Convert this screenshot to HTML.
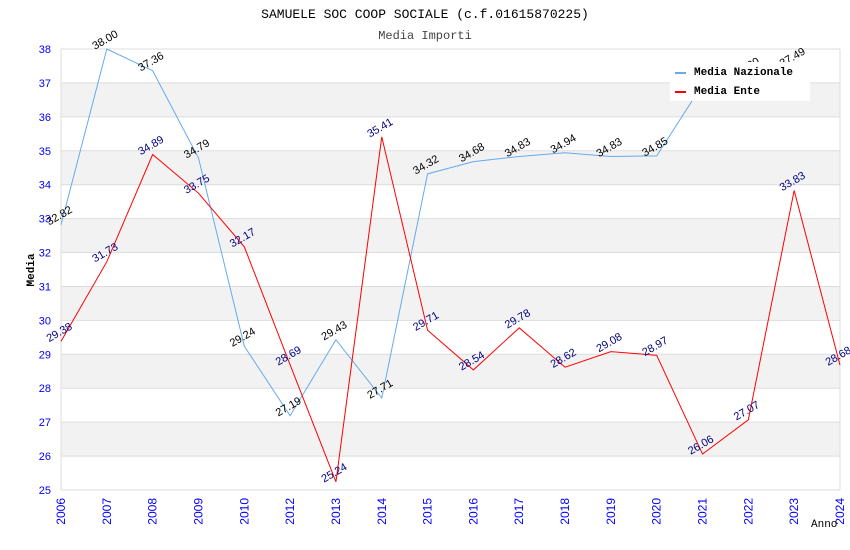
<!DOCTYPE html>
<html><head><meta charset="utf-8"><style>
body{margin:0;background:#fff;}
svg{display:block;font-family:"Liberation Sans",sans-serif;}
</style></head><body>
<svg id="chart" width="850" height="550" xmlns="http://www.w3.org/2000/svg">
<text x="425" y="18" text-anchor="middle" font-family="Liberation Mono, monospace" font-size="13" fill="#000">SAMUELE SOC COOP SOCIALE (c.f.01615870225)</text>
<text x="425" y="39" text-anchor="middle" font-family="Liberation Mono, monospace" font-size="12" fill="#444">Media Importi</text>
<g id="bands"></g><g id="grid"></g><g id="yticks"></g><g id="xticks"></g>
<g id="lines"></g><g id="labels"></g>
<text transform="translate(34,270) rotate(-90)" text-anchor="middle" font-family="Liberation Mono, monospace" font-size="11" font-weight="bold">Media</text>
<text x="811" y="527" font-family="Liberation Mono, monospace" font-size="11">Anno</text>
<g>
<rect x="670" y="62" width="140" height="39" fill="#fff"/>
<line x1="675" y1="73" x2="686" y2="73" stroke="#66aaee" stroke-width="2"/>
<text x="694" y="75" font-family="Liberation Mono, monospace" font-size="11" font-weight="bold">Media Nazionale</text>
<line x1="675" y1="92" x2="686" y2="92" stroke="#ff0000" stroke-width="2"/>
<text x="694" y="94" font-family="Liberation Mono, monospace" font-size="11" font-weight="bold">Media Ente</text>
</g>
</svg>
<script>
const categories=["2006","2007","2008","2009","2010","2012","2013","2014","2015","2016","2017","2018","2019","2020","2021","2022","2023","2024"];
const nazionale=[32.82,38.00,37.36,34.79,29.24,27.19,29.43,27.71,34.32,34.68,34.83,34.94,34.83,34.85,36.95,37.2,37.49,null];
const ente=[29.38,31.73,34.89,33.75,32.17,28.69,25.24,35.41,29.71,28.54,29.78,28.62,29.08,28.97,26.06,27.07,33.83,28.68];
const yTicks=[25,26,27,28,29,30,31,32,33,34,35,36,37,38];
const NS="http://www.w3.org/2000/svg";
const L=61,R=840,T=49,B=490,YMIN=25,YMAX=38;
const x=i=>L+i*(R-L)/(categories.length-1);
const y=v=>B-(v-YMIN)*(B-T)/(YMAX-YMIN);
function mk(tag,attrs,parent,txt){const e=document.createElementNS(NS,tag);for(const k in attrs)e.setAttribute(k,attrs[k]);if(txt!==undefined)e.textContent=txt;document.getElementById(parent).appendChild(e);return e;}
yTicks.forEach(t=>{
 if(t<YMAX && t%2===0){const b=mk('rect',{x:L,y:y(t+1),width:R-L,height:y(t)-y(t+1),fill:'#f2f2f2'},'bands');
 
 }
 const g=mk('line',{x1:L,x2:R,y1:y(t),y2:y(t),stroke:'#dddddd'},'grid');
 
 
 const tl=mk('text',{x:L-10,y:y(t)+4,'text-anchor':'end','font-size':11,fill:'#0000ff'},'yticks',t);
 
 
});
const ax=mk('line',{x1:R,x2:R,y1:T,y2:B,stroke:'#dddddd'},'grid');


const ax2=mk('line',{x1:L,x2:L,y1:T,y2:B,stroke:'#dddddd'},'grid');


categories.forEach((c,i)=>{
 const t=mk('text',{transform:`translate(${x(i)+4},${B+8}) rotate(-90)`,'text-anchor':'end','font-size':12,fill:'#0000ff'},'xticks',c);
 
 
});
function series(vals,color,lblColor,name){
 let d='';vals.forEach((v,i)=>{if(v==null)return;d+=(d?'L':'M')+x(i)+','+y(v);});
 const p=mk('path',{d:d,fill:'none',stroke:color,'stroke-width':1},'lines');
 
 
 vals.forEach((v,i)=>{if(v==null)return;
  const t=mk('text',{transform:`translate(${x(i)},${y(v)-6}) rotate(-30)`,'text-anchor':'middle','font-size':11,fill:lblColor},'labels',v.toFixed(2));
  
  
 });
}
series(nazionale,'#66aaee','#000','nazionale');
series(ente,'#ff0000','#000080','ente');
</script>
</body></html>
